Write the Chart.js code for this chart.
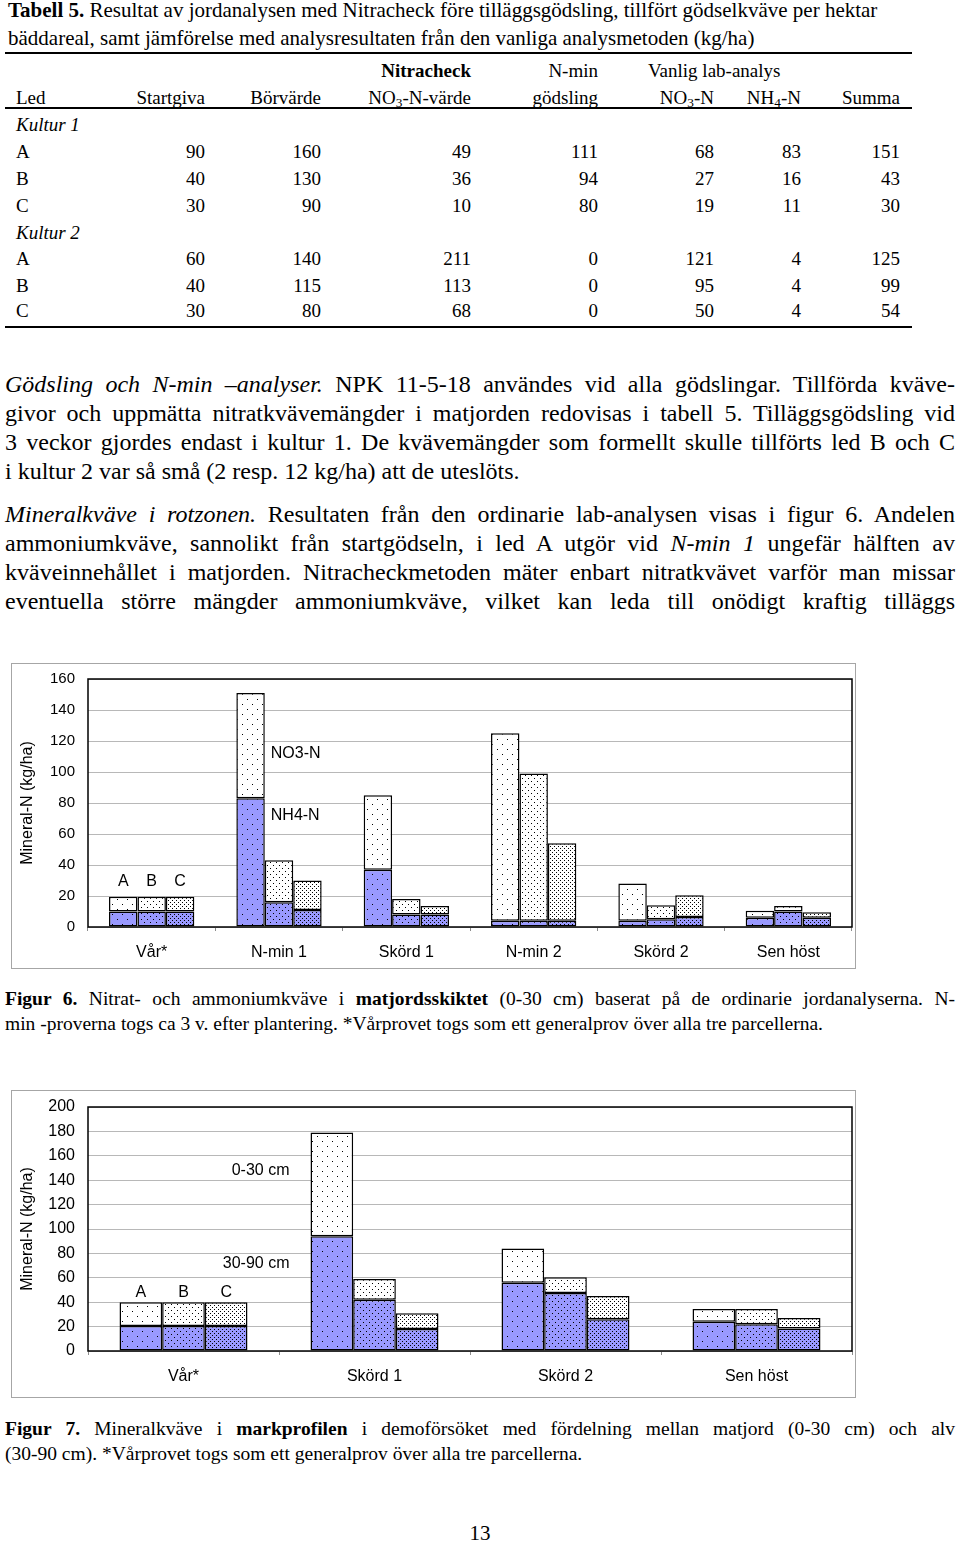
<!DOCTYPE html>
<html lang="sv">
<head>
<meta charset="utf-8">
<title>Tabell 5, Figur 6 och Figur 7</title>
<script src="https://cdn.jsdelivr.net/npm/chart.js@4.4.1/dist/chart.umd.min.js"></script>
<style>
  body { margin: 0; background: #fff; }
  #page { position: relative; width: 960px; height: 1545px; overflow: hidden; color: #000;
          font-family: "Liberation Serif", "Times New Roman", serif; }
  .abs { position: absolute; white-space: nowrap; }
  .rule { position: absolute; left: 5px; width: 907px; height: 2px; background: #000; }
  .row { position: absolute; left: 5px; height: 26px; line-height: 26px; font-size: 19px; white-space: nowrap;
         display: grid; grid-template-columns: 130px 70px 116px 150px 127px 116px 87px 99px; }
  .row span { text-align: right; }
  .row span:first-child { text-align: left; padding-left: 11px; }
  .para { position: absolute; left: 5px; width: 950px; font-size: 24px; line-height: 29px; }
  .cap { position: absolute; left: 5px; width: 950px; font-size: 19.5px; line-height: 25px; }
  .para div, .cap div { text-align: justify; text-align-last: justify; }
  .para div.end, .cap div.end { text-align-last: left; }
  .box { position: absolute; left: 11px; width: 845px; border: 1px solid #a6a6a6; box-sizing: border-box; }
  sub { font-size: 70%; line-height: 0; vertical-align: -0.25em; }
</style>
</head>
<body>
<div id="page">

  <div class="abs" style="left:8px; top:-4px; font-size:21px; line-height:28px;">
    <b>Tabell 5.</b> Resultat av jordanalysen med Nitracheck före tilläggsgödsling, tillfört gödselkväve per hektar<br>
    bäddareal, samt jämförelse med analysresultaten från den vanliga analysmetoden (kg/ha)
  </div>

  <div class="rule" style="top:52px;"></div>
  <div class="row" style="top:58px;"><span></span><span></span><span></span><span><b>Nitracheck</b></span><span>N-min</span>
    <span style="grid-column: span 2; text-align:left; padding-left:50px;">Vanlig lab-analys</span></div>
  <div class="row" style="top:85px;"><span>Led</span><span>Startgiva</span><span>Börvärde</span><span>NO<sub>3</sub>-N-värde</span><span>gödsling</span><span>NO<sub>3</sub>-N</span><span>NH<sub>4</sub>-N</span><span>Summa</span></div>
  <div class="rule" style="top:107px;"></div>
  <div class="row" style="top:112px;"><span><i>Kultur 1</i></span></div>
  <div class="row" style="top:139px;"><span>A</span><span>90</span><span>160</span><span>49</span><span>111</span><span>68</span><span>83</span><span>151</span></div>
  <div class="row" style="top:166px;"><span>B</span><span>40</span><span>130</span><span>36</span><span>94</span><span>27</span><span>16</span><span>43</span></div>
  <div class="row" style="top:193px;"><span>C</span><span>30</span><span>90</span><span>10</span><span>80</span><span>19</span><span>11</span><span>30</span></div>
  <div class="row" style="top:220px;"><span><i>Kultur 2</i></span></div>
  <div class="row" style="top:246px;"><span>A</span><span>60</span><span>140</span><span>211</span><span>0</span><span>121</span><span>4</span><span>125</span></div>
  <div class="row" style="top:273px;"><span>B</span><span>40</span><span>115</span><span>113</span><span>0</span><span>95</span><span>4</span><span>99</span></div>
  <div class="row" style="top:298px;"><span>C</span><span>30</span><span>80</span><span>68</span><span>0</span><span>50</span><span>4</span><span>54</span></div>
  <div class="rule" style="top:326px;"></div>

  <div class="para" style="top:370px;">
    <div><i>Gödsling och N-min –analyser.</i> NPK 11-5-18 användes vid alla gödslingar. Tillförda kväve-</div>
    <div>givor och uppmätta nitratkvävemängder i matjorden redovisas i tabell 5. Tilläggsgödsling vid</div>
    <div>3 veckor gjordes endast i kultur 1. De kvävemängder som formellt skulle tillförts led B och C</div>
    <div class="end">i kultur 2 var så små (2 resp. 12 kg/ha) att de uteslöts.</div>
  </div>
  <div class="para" style="top:500px;">
    <div><i>Mineralkväve i rotzonen.</i> Resultaten från den ordinarie lab-analysen visas i figur 6. Andelen</div>
    <div>ammoniumkväve, sannolikt från startgödseln, i led A utgör vid <i>N-min 1</i> ungefär hälften av</div>
    <div>kväveinnehållet i matjorden. Nitracheckmetoden mäter enbart nitratkvävet varför man missar</div>
    <div>eventuella större mängder ammoniumkväve, vilket kan leda till onödigt kraftig tilläggs</div>
  </div>

  <div class="box" style="top:663px; height:306px;"><canvas id="fig6"></canvas></div>

  <div class="cap" style="top:986px;">
    <div><b>Figur 6.</b> Nitrat- och ammoniumkväve i <b>matjordsskiktet</b> (0-30 cm) baserat på de ordinarie jordanalyserna. N-</div>
    <div class="end">min -proverna togs ca 3 v. efter plantering. *Vårprovet togs som ett generalprov över alla tre parcellerna.</div>
  </div>

  <div class="box" style="top:1090px; height:308px;"><canvas id="fig7"></canvas></div>

  <div class="cap" style="top:1416px;">
    <div><b>Figur 7.</b> Mineralkväve i <b>markprofilen</b> i demoförsöket med fördelning mellan matjord (0-30 cm) och alv</div>
    <div class="end">(30-90 cm). *Vårprovet togs som ett generalprov över alla tre parcellerna.</div>
  </div>

  <div class="abs" style="left:0; width:960px; top:1521px; line-height:24px; font-size:21px; text-align:center;">13</div>
</div>

<script>
// Figur 6: matjord 0-30 cm, NH4-N (nederst) och NO3-N (överst) per led
const fig6Labels = ['Vår*', 'N-min 1', 'Skörd 1', 'N-min 2', 'Skörd 2', 'Sen höst'];
const fig6Nh4A = [10, 83, 37, 4, 4, 6];
const fig6Nh4B = [10, 16, 8, 4, 5, 10];
const fig6Nh4C = [10, 11, 8, 4, 6.5, 6];
const fig6No3A = [9.5, 68, 48, 121, 24, 4.5];
const fig6No3B = [9.5, 27, 10, 95, 9, 3.5];
const fig6No3C = [9.5, 19, 5.5, 50, 14, 3.5];
const fig6YTicks = [0, 20, 40, 60, 80, 100, 120, 140, 160];

// Figur 7: markprofil, 30-90 cm (nederst) och 0-30 cm (överst) per led
const fig7Labels = ['Vår*', 'Skörd 1', 'Skörd 2', 'Sen höst'];
const fig7DeepA = [20.5, 94, 56, 24];
const fig7DeepB = [20.5, 42, 47.5, 22];
const fig7DeepC = [20.5, 18, 26, 18.5];
const fig7TopA = [19.5, 85, 28, 10.5];
const fig7TopB = [19.5, 17, 13, 12.5];
const fig7TopC = [19.5, 13, 19, 8.5];
const fig7YTicks = [0, 20, 40, 60, 80, 100, 120, 140, 160, 180, 200];

const leds = ['A', 'B', 'C'];
const BLUE = '#9999ff';
const SANS = '"Liberation Sans", Arial, sans-serif';

Chart.defaults.font.family = SANS;
Chart.defaults.color = '#000';

// dotted fill like the old Excel patterns, sparser for A, denser for C
function dots(bg, step) {
    const tile = document.createElement('canvas');
    tile.width = tile.height = step * 2;
    const g = tile.getContext('2d');
    g.fillStyle = bg;
    g.fillRect(0, 0, tile.width, tile.height);
    g.fillStyle = '#000';
    g.fillRect(0, 0, 1, 1);
    g.fillRect(step, step, 1, 1);
    return g.createPattern(tile, 'repeat');
}

function makeSets(low, high) {
    const steps = [5, 3, 2];
    const sets = [];
    leds.forEach((led, i) => {
        [[low[i], BLUE], [high[i], '#ffffff']].forEach(([data, bg]) => {
            sets.push({
                label: led,
                data: data,
                stack: led,
                backgroundColor: dots(bg, steps[i]),
                borderColor: '#000',
                borderWidth: 1.5,
                borderSkipped: false
            });
        });
    });
    return sets;
}

const framePlugin = {
    id: 'frame',
    afterDatasetsDraw(chart) {
        const { ctx, chartArea: a } = chart;
        ctx.save();
        ctx.strokeStyle = '#000';
        ctx.lineWidth = 1.5;
        ctx.strokeRect(a.left, a.top, a.right - a.left, a.bottom - a.top);
        ctx.restore();
    }
};

const notesPlugin = {
    id: 'notes',
    afterDatasetsDraw(chart, args, opts) {
        const ctx = chart.ctx;
        const y = chart.scales.y;
        ctx.save();
        ctx.font = '16px ' + SANS;
        ctx.fillStyle = '#000';
        ctx.textBaseline = 'middle';
        ctx.textAlign = 'center';
        leds.forEach((led, i) => {
            const bar = chart.getDatasetMeta(i * 2 + 1).data[0];
            ctx.fillText(led, bar.x, y.getPixelForValue(opts.abcAt));
        });
        const barA = chart.getDatasetMeta(1).data[opts.group];
        opts.layers.forEach(l => {
            let x;
            if (opts.side === 'right') {
                ctx.textAlign = 'left';
                x = barA.x + barA.width / 2 + opts.gap;
            } else {
                ctx.textAlign = 'right';
                x = barA.x - barA.width / 2 - opts.gap;
            }
            ctx.fillText(l.text, x, y.getPixelForValue(l.at));
        });
        ctx.restore();
    }
};

function makeChart(id, labels, sets, yTicks, cfg) {
    return new Chart(document.getElementById(id), {
        type: 'bar',
        data: { labels: labels, datasets: sets },
        plugins: [framePlugin, notesPlugin],
        options: {
            responsive: true,
            maintainAspectRatio: false,
            animation: false,
            events: [],
            categoryPercentage: 0.67,
            barPercentage: 1.0,
            layout: { padding: { left: 0, right: 3, top: cfg.top, bottom: 0 } },
            scales: {
                x: {
                    stacked: true,
                    offset: true,
                    grid: { display: true, offset: true, drawOnChartArea: false, drawTicks: true, tickLength: 4, color: '#8c8c8c' },
                    border: { display: false },
                    ticks: { padding: cfg.xPad, font: { size: 16 } },
                    afterFit(s) { s.height = cfg.xHeight; }
                },
                y: {
                    stacked: true,
                    min: yTicks[0],
                    max: yTicks[yTicks.length - 1],
                    // the gap to the labels comes from an invisible tick so it does not push the top down
                    ticks: { stepSize: yTicks[1] - yTicks[0], padding: 0, font: { size: cfg.yFont } },
                    grid: { color: '#b8b8b8', drawTicks: true, tickLength: 13, tickColor: 'rgba(0,0,0,0)' },
                    border: { display: false },
                    title: { display: true, text: 'Mineral-N (kg/ha)', font: { size: 16 }, padding: { top: 6, bottom: 0 } },
                    afterFit(s) { s.width = 76; }
                }
            },
            plugins: {
                legend: { display: false },
                tooltip: { enabled: false },
                notes: cfg.notes
            }
        }
    });
}

makeChart('fig6', fig6Labels,
    makeSets([fig6Nh4A, fig6Nh4B, fig6Nh4C], [fig6No3A, fig6No3B, fig6No3C]),
    fig6YTicks,
    {
        top: 15, xHeight: 41, xPad: 12, yFont: 15,
        notes: { abcAt: 29, group: 1, side: 'right', gap: 6,
                 layers: [{ text: 'NO3-N', at: 112 }, { text: 'NH4-N', at: 72 }] }
    });

makeChart('fig7', fig7Labels,
    makeSets([fig7DeepA, fig7DeepB, fig7DeepC], [fig7TopA, fig7TopB, fig7TopC]),
    fig7YTicks,
    {
        top: 16, xHeight: 46, xPad: 12, yFont: 16,
        notes: { abcAt: 48, group: 1, side: 'left', gap: 21,
                 layers: [{ text: '0-30 cm', at: 148 }, { text: '30-90 cm', at: 72 }] }
    });
</script>
</body>
</html>
